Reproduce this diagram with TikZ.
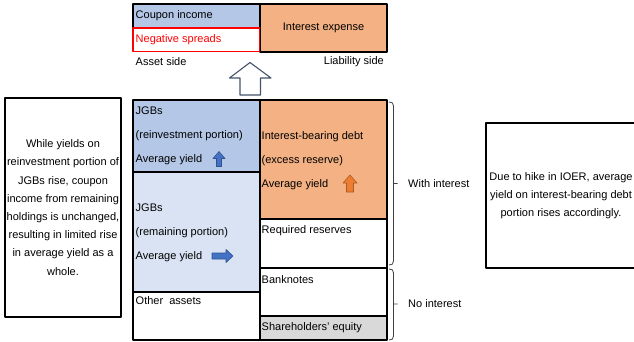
\documentclass[tikz,border=0pt]{standalone}
\usepackage{fontspec}
\setmainfont{Liberation Sans}
\definecolor{jgbblue}{HTML}{B4C7E7}
\definecolor{jgblight}{HTML}{DAE3F3}
\definecolor{debtorange}{HTML}{F4B183}
\definecolor{equitygray}{HTML}{D9D9D9}
\definecolor{arrowblue}{HTML}{4472C4}
\definecolor{arrowblueline}{HTML}{2F528F}
\definecolor{arroworange}{HTML}{ED7D31}
\definecolor{arroworangeline}{HTML}{AE5A21}
\definecolor{slate}{HTML}{44546A}
\tikzset{
	cell/.style={draw=black, line width=1.5pt},
	txt/.style={anchor=west, inner sep=0pt, align=left, font=\fontsize{11}{24}\selectfont},
	note/.style={draw=black, line width=1.5pt, align=center, inner sep=0pt, font=\fontsize{11}{18.2}\selectfont},
	brace/.style={draw=black!75, line width=0.8pt},
	hollowarrow/.style={draw=slate, line width=1.1pt, fill=white},
	bluearrow/.style={draw=arrowblueline, line width=0.6pt, fill=arrowblue},
	orangearrow/.style={draw=arroworangeline, line width=0.6pt, fill=arroworange}
}
\begin{document}
\begin{tikzpicture}[x=1pt, y=-1pt, font=\fontsize{11}{13}\selectfont, line join=round]
	\clip (0,0) rectangle (634,342);
	% income statement
	\filldraw[cell, fill=jgbblue] (133,4) rectangle (260,28);
	\filldraw[cell, fill=debtorange] (260,4) rectangle (387,52);
	\draw[cell, draw=red] (133,28) rectangle (259.5,51.5);
	\node[txt] (coupon) at (135.5,16) {Coupon income};
	\node[txt, text=red] (negspread) at (135.5,40) {Negative spreads};
	\node[inner sep=0pt] (intexp) at (323.5,28) {Interest expense};
	\node[txt] (assetside) at (135.5,62) {Asset side};
	\node[txt, anchor=east] (liabside) at (384,62) {Liability side};
	\draw[hollowarrow] (250,62.5)--(271,78)--(260.5,78)--(260.5,95)--(240,95)--(240,78)--(229.5,78)--cycle;
	% balance sheet
	\filldraw[cell, fill=jgbblue] (133,100) rectangle (260,172);
	\filldraw[cell, fill=jgblight] (133,172) rectangle (260,292);
	\draw[cell] (133,292) rectangle (260,340);
	\filldraw[cell, fill=debtorange] (260,100) rectangle (387,219);
	\draw[cell] (260,219) rectangle (387,268);
	\draw[cell] (260,268) rectangle (387,316);
	\filldraw[cell, fill=equitygray] (260,316) rectangle (387,340);
	\node[txt] (jgbreinv) at (135.5,135.5) {JGBs\\(reinvestment portion)\\Average yield};
	\node[txt] (jgbremain) at (135.5,233) {JGBs\\(remaining portion)\\Average yield};
	\node[txt] (otherassets) at (135.5,301) {Other\ \ assets};
	\node[txt] (debt) at (261.5,160.5) {Interest-bearing debt\\(excess reserve)\\Average yield};
	\node[txt] (reqres) at (261.5,231) {Required reserves};
	\node[txt] (banknotes) at (261.5,280) {Banknotes};
	\node[txt] (equity) at (261.5,327.5) {Shareholders' equity};
	% yield arrows
	\draw[bluearrow] (219,151.5)--(225,158.5)--(221.5,158.5)--(221.5,166.5)--(216.5,166.5)--(216.5,158.5)--(213,158.5)--cycle;
	\draw[bluearrow] (233,256)--(226,249.5)--(226,253)--(212,253)--(212,259)--(226,259)--(226,262.5)--cycle;
	\draw[orangearrow] (350,175)--(357,183)--(353.5,183)--(353.5,192)--(346.5,192)--(346.5,183)--(343,183)--cycle;
	% braces
	\draw[brace] (389,102) .. controls (392,102) and (393.5,103) .. (393.5,106)--(393.5,261) .. controls (393.5,264) and (392,265) .. (389,265) (393.5,183.5)--(397.5,183.5);
	\draw[brace] (389,269) .. controls (392,269) and (393.5,270) .. (393.5,273)--(393.5,336) .. controls (393.5,339) and (392,340) .. (389,340) (393.5,304)--(397.5,304);
	\node[txt] (withint) at (408,183.5) {With interest};
	\node[txt] (noint) at (408,303.5) {No interest};
	% notes
	\node[note, minimum width=116, minimum height=219] (yieldnote) at (63,207.5) {While yields on\\reinvestment portion of\\JGBs rise, coupon\\income from remaining\\holdings is unchanged,\\resulting in limited rise\\in average yield as a\\whole.};
	\node[note, minimum width=150, minimum height=145] (ioernote) at (561,195.5) {Due to hike in IOER, average\\yield on interest-bearing debt\\portion rises accordingly.};
\end{tikzpicture}
\end{document}
